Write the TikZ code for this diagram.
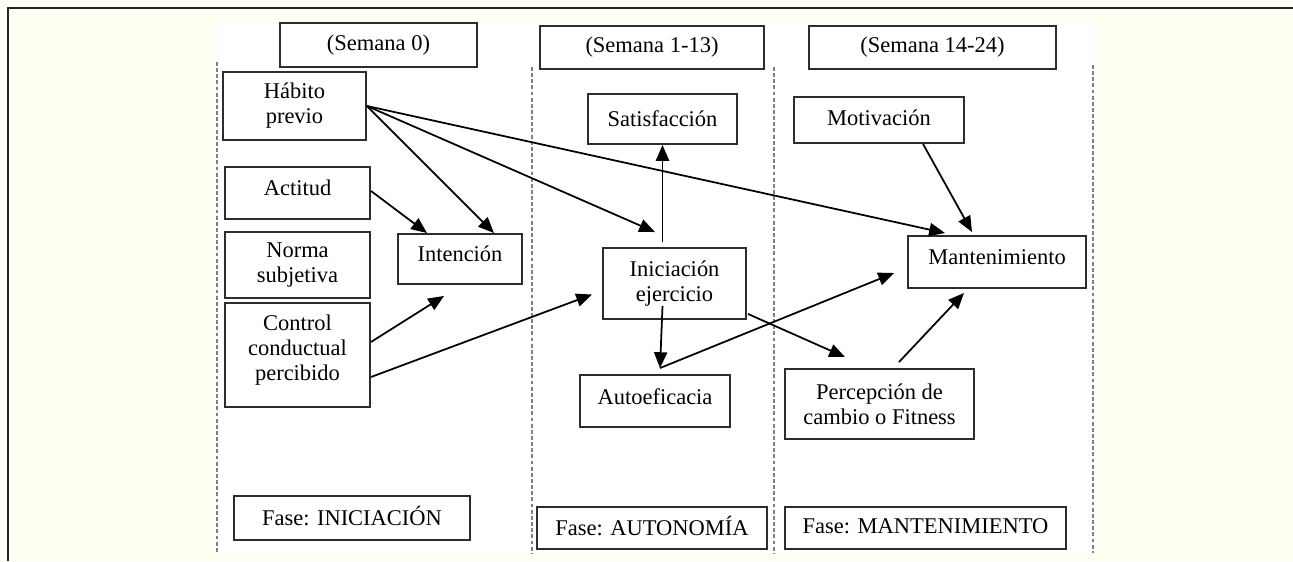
\documentclass[tikz,border=0pt]{standalone}
\usepackage{fontspec}
\setmainfont{Liberation Serif}
\usetikzlibrary{arrows.meta}
\usetikzlibrary{calc}
\definecolor{crema}{RGB}{255,254,242}
\definecolor{borde}{RGB}{45,45,45}
\newcommand{\txt}{\fontsize{12.8pt}{14.3pt}\selectfont}
\tikzset{
	% caja: ancho y alto en px (1px = 0.02cm)
	caja/.style 2 args={draw=borde, line width=1.1pt, minimum width=#1*0.02cm, minimum height=#2*0.02cm,
		inner sep=0pt, align=center, font=\txt},
	% sube o baja el texto dentro de la caja
	arriba/.style={execute at end node={\rule[-#1]{0pt}{0pt}}},
	abajo/.style={execute at begin node={\rule{0pt}{#1}}},
	flecha/.style={-{Triangle[length=9pt,width=7.5pt]}, line width=1pt},
	limite/.style={draw=gray, line width=0.8pt, dash pattern=on 2.2pt off 1.3pt}
}

\begin{document}
\begin{tikzpicture}[x=0.02cm, y=-0.02cm]
	% 1293 x 561 px, y hacia abajo
	\useasboundingbox (0,0) rectangle (1293,561);
	\fill[crema] (0,0) rectangle (1293,561);
	\fill[white] (216,23) rectangle (1095,553);
	\draw[line width=1pt, black!85] (8,561) -- (8,8) -- (1293,8);
	% limites de fase
	\draw[limite] (217,62) -- (217,553);
	\draw[limite] (532,67) -- (532,553);
	\draw[limite] (774,67) -- (774,553);
	\draw[limite] (1093,65) -- (1093,553);
	
	% semanas
	\node[caja={197}{44}] (sem0) at (378.5,45) {(Semana 0)};
	\node[caja={224}{43}] (sem1) at (652,47.5) {(Semana 1-13)};
	\node[caja={247}{43}] (sem2) at (932.5,47.5) {(Semana 14-24)};
	
	% iniciacion
	\node[caja={143}{68}] (habito) at (294.5,106) {Hábito\\previo};
	\node[caja={145}{52}, arriba=5.7pt] (actitud) at (297.5,193) {Actitud};
	\node[caja={145}{66}, abajo=12.5pt] (norma) at (297.5,265) {Norma\\subjetiva};
	\node[caja={145}{104}, arriba=7.9pt] (control) at (297.5,355) {Control\\conductual\\percibido};
	\node[caja={124}{50}, arriba=5.7pt] (intencion) at (460,259) {Intención};
	
	% autonomia
	\node[caja={149}{50}] (satisf) at (662.5,119) {Satisfacción};
	\node[caja={143}{71}] (iniciacion) at (674.5,283.5) {Iniciación\\ejercicio};
	\node[caja={150}{52}, arriba=4.5pt] (autoef) at (655,401) {Autoeficacia};
	
	% mantenimiento
	\node[caja={170}{46}, arriba=2.3pt] (motiv) at (879,120) {Motivación};
	\node[caja={178}{52}, arriba=5.7pt] (mant) at (997,262) {Mantenimiento};
	\node[caja={189}{70}] (percep) at (879.5,404) {Percepción de\\cambio o Fitness};
	
	% fases
	\node[caja={236}{44}, arriba=2.3pt] (fase1) at (352,518) {Fase: INICIACIÓN};
	\node[caja={230}{42}, arriba=2.3pt] (fase2) at (652,528) {Fase: AUTONOMÍA};
	\node[caja={281}{42}, arriba=2.3pt] (fase3) at (925.5,528) {Fase: MANTENIMIENTO};
	
	% flechas
	\draw[flecha] (habito.east) -- ($(intencion.north)+(34,0)$);
	\draw[flecha] (habito.east) -- ($(iniciacion.north)+(-19.5,-15)$);
	\draw[flecha] (habito.east) -- ($(mant.north)+(-52,-2)$);
	\draw[flecha] ($(actitud.east)+(0,-2)$) -- ($(intencion.north)+(-33,0)$);
	\draw[flecha] ($(control.east)+(0,-13)$) -- ($(intencion.south)+(-16,11)$);
	\draw[flecha] ($(control.east)+(0,22)$) -- ($(iniciacion.west)+(-10,11)$);
	\draw[flecha] ($(iniciacion.north)+(-12,-5)$) -- (satisf.south);
	\draw[flecha] ($(iniciacion.south)+(-12,-14)$) -- ($(autoef.north)+(5,-6)$);
	\draw[flecha] ($(autoef.north)+(5,-6)$) -- ($(mant.west)+(-13,11)$);
	\draw[flecha] ($(iniciacion.south east)+(1,-6)$) -- ($(percep.north)+(-34.5,-11)$);
	\draw[flecha] ($(percep.north)+(19.5,-6)$) -- ($(mant.south)+(-33,4)$);
	\draw[flecha] ($(motiv.south)+(44,0)$) -- ($(mant.north)+(-25,-3)$);
\end{tikzpicture}
\end{document}
